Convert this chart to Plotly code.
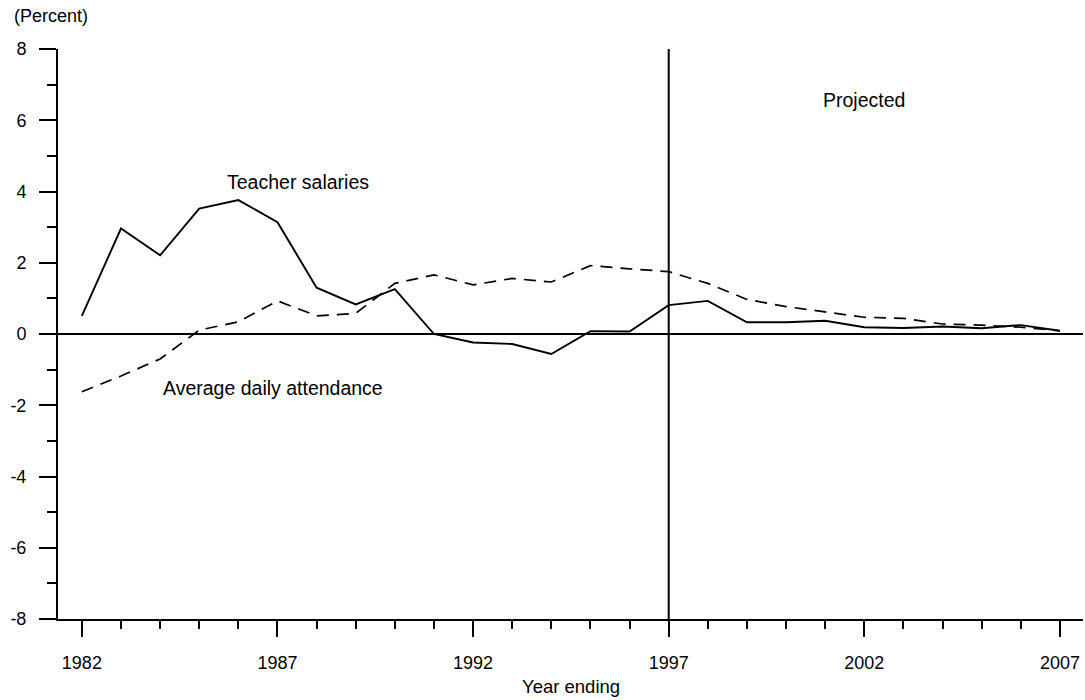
import plotly.graph_objects as go

# Year ending (school years)
years = list(range(1982, 2008))

# Annual percent change, teacher salaries (constant dollars)
teacher_salaries = [0.51, 2.96, 2.21, 3.52, 3.76, 3.14, 1.30, 0.83, 1.26, 0.00,
                    -0.24, -0.28, -0.56, 0.08, 0.07, 0.81, 0.93, 0.33, 0.33, 0.37,
                    0.19, 0.17, 0.21, 0.16, 0.25, 0.09]

# Annual percent change, average daily attendance
attendance = [-1.62, -1.18, -0.70, 0.11, 0.34, 0.93, 0.51, 0.58, 1.42, 1.66,
              1.38, 1.56, 1.46, 1.92, 1.83, 1.75, 1.42, 0.97, 0.77, 0.63,
              0.47, 0.44, 0.28, 0.25, 0.19, 0.09]

projection_start = 1997
x_ticks = [1982, 1987, 1992, 1997, 2002, 2007]
y_ticks = [-8, -6, -4, -2, 0, 2, 4, 6, 8]

FONT = "Liberation Sans, Arial, sans-serif"

fig = go.Figure()

fig.add_trace(go.Scatter(
    x=years, y=attendance, mode="lines",
    line=dict(color="black", width=1.7, dash="12px,8px"),
    showlegend=False, hoverinfo="skip",
))
fig.add_trace(go.Scatter(
    x=years, y=teacher_salaries, mode="lines",
    line=dict(color="black", width=1.9),
    showlegend=False, hoverinfo="skip",
))

# Divider between actual and projected years
fig.add_shape(type="line", xref="x", yref="y",
              x0=projection_start, x1=projection_start, y0=-8, y1=8.06,
              line=dict(color="black", width=2))

label_font = dict(size=19.5, color="black", family=FONT)
fig.add_annotation(x=1987.53, y=4.27, text="Teacher salaries", showarrow=False,
                   font=label_font)
fig.add_annotation(x=1986.88, y=-1.52, text="Average daily attendance", showarrow=False,
                   font=label_font)
fig.add_annotation(x=2002.0, y=6.57, text="Projected", showarrow=False,
                   font=label_font)

fig.add_annotation(xref="paper", yref="paper", x=-0.045, y=1.058,
                   xanchor="left", yanchor="middle", text="(Percent)",
                   showarrow=False, font=dict(size=18, color="black", family=FONT))
fig.add_annotation(xref="paper", yref="paper", x=0.5, y=-0.119,
                   xanchor="center", yanchor="middle", text="Year ending",
                   showarrow=False, font=dict(size=18.5, color="black", family=FONT))

fig.update_layout(
    width=1085, height=700,
    margin=dict(l=58, r=2, t=49, b=81),
    paper_bgcolor="white", plot_bgcolor="white",
    font=dict(family=FONT, size=18, color="black"),
    xaxis=dict(
        range=[1981.39, 2007.59],
        tickmode="array", tickvals=x_ticks, ticktext=[str(v) for v in x_ticks],
        ticks="outside", ticklen=16, tickwidth=1.5, tickcolor="black",
        minor=dict(dtick=1, tick0=1982, ticks="outside", ticklen=8,
                   tickwidth=1.5, tickcolor="black"),
        showline=True, linecolor="black", linewidth=2,
        showgrid=False, zeroline=False,
        ticklabelstandoff=10,
        tickfont=dict(size=18, family=FONT),
    ),
    yaxis=dict(
        range=[-8, 8],
        tickmode="array", tickvals=y_ticks, ticktext=[str(v) for v in y_ticks],
        ticks="outside", ticklen=17, tickwidth=1.5, tickcolor="black",
        minor=dict(dtick=1, tick0=0, ticks="outside", ticklen=9,
                   tickwidth=1.5, tickcolor="black"),
        showline=True, linecolor="black", linewidth=2,
        showgrid=False,
        zeroline=True, zerolinecolor="black", zerolinewidth=2,
        ticklabelstandoff=9,
        tickfont=dict(size=18, family=FONT),
    ),
)

fig.write_html("out.html")
